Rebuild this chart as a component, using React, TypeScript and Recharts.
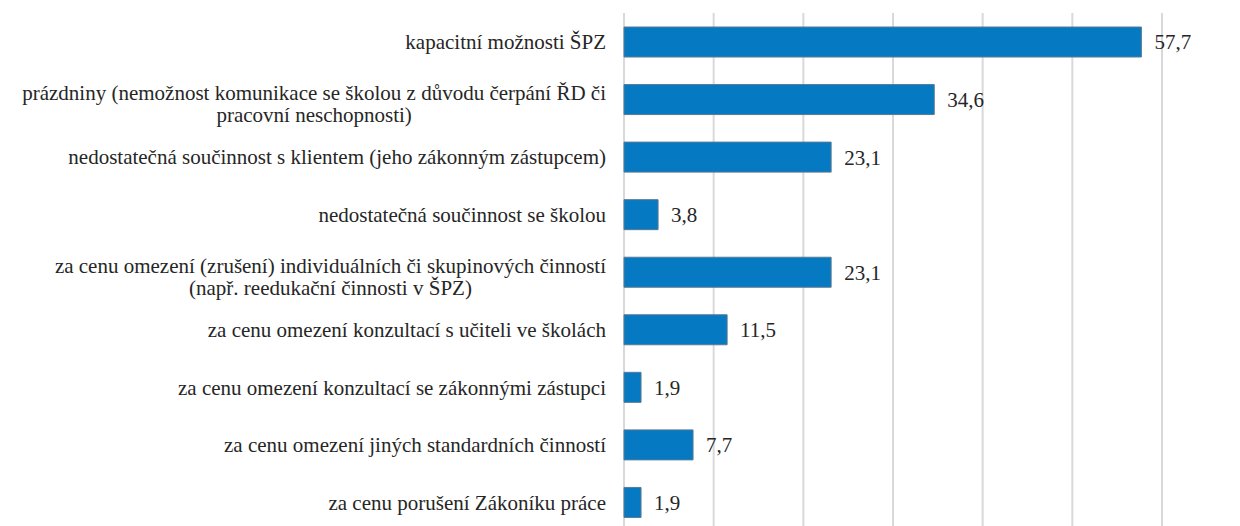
import React, { useEffect, useRef } from 'react';
import { BarChart, Bar, XAxis, YAxis, CartesianGrid, LabelList } from 'recharts';

const categories: string[] = [
  'kapacitní možnosti ŠPZ',
  'prázdniny (nemožnost komunikace se školou z důvodu čerpání ŘD či\npracovní neschopnosti)',
  'nedostatečná součinnost s klientem (jeho zákonným zástupcem)',
  'nedostatečná součinnost se školou',
  'za cenu omezení (zrušení) individuálních či skupinových činností\n(např. reedukační činnosti v ŠPZ)',
  'za cenu omezení konzultací s učiteli ve školách',
  'za cenu omezení konzultací se zákonnými zástupci',
  'za cenu omezení jiných standardních činností',
  'za cenu porušení Zákoníku práce',
];

const values: number[] = [57.7, 34.6, 23.1, 3.8, 23.1, 11.5, 1.9, 7.7, 1.9];

const xTicks: number[] = [0, 10, 20, 30, 40, 50, 60];

const data = categories.map((name, i) => ({ name, value: values[i] }));

const FONT = '"Liberation Serif"';
const FONT_SIZE = 21;
const TEXT_COLOR = '#262626';

let ctx: CanvasRenderingContext2D | null = null;
function measure(s: string): number {
  if (!ctx) {
    const c = document.createElement('canvas');
    ctx = c.getContext('2d');
  }
  if (!ctx) return s.length * FONT_SIZE * 0.45;
  ctx.font = `${FONT_SIZE}px "Liberation Serif"`;
  return ctx.measureText(s).width;
}

const textStyle: React.CSSProperties = { fontFamily: FONT, fontSize: FONT_SIZE, fill: TEXT_COLOR };

const CategoryTick = (props: any) => {
  const { x, y, payload } = props;
  const lines: string[] = String(payload.value).split('\n');
  const right = x - 6;
  if (lines.length === 1) {
    return (
      <text x={right} y={y} dy="0.355em" textAnchor="end" style={textStyle}>
        {lines[0]}
      </text>
    );
  }
  const maxW = Math.max(...lines.map(measure));
  const cx = right - maxW / 2;
  return (
    <text x={cx} y={y} textAnchor="middle" style={textStyle}>
      {lines.map((l, i) => (
        <tspan key={i} x={cx} y={y + 1 + i * 22}>
          {l}
        </tspan>
      ))}
    </text>
  );
};

const css = `
html body div.recharts-wrapper svg text,
html body div.recharts-wrapper svg tspan,
html body div.recharts-wrapper svg text tspan,
html body div.recharts-wrapper svg g text,
html body div.recharts-wrapper .recharts-text,
html body div.recharts-wrapper .recharts-label {
  font-family: "Liberation Serif" !important;
  font-size: 21px !important;
}
`;

export default function App() {
  const ref = useRef<HTMLDivElement>(null);
  useEffect(() => {
    const apply = () => {
      const root = ref.current;
      if (!root) return;
      root.querySelectorAll('text, tspan').forEach((el) => {
        const s = (el as SVGElement).style;
        s.setProperty('font-family', '"Liberation Serif"', 'important');
        s.setProperty('font-size', '21px', 'important');
      });
    };
    apply();
    const raf = requestAnimationFrame(apply);
    const t1 = setTimeout(apply, 30);
    const t2 = setTimeout(apply, 150);
    return () => {
      cancelAnimationFrame(raf);
      clearTimeout(t1);
      clearTimeout(t2);
    };
  });
  return (
    <div ref={ref} style={{ position: 'fixed', left: 0, top: 0, background: '#fff' }}>
      <style>{css}</style>
      <BarChart
        width={1240}
        height={540}
        data={data}
        layout="vertical"
        margin={{ top: 13, right: 78, bottom: 9, left: 0 }}
        barCategoryGap={0}
      >
        <CartesianGrid horizontal={false} vertical={true} stroke="#d9d9d9" strokeWidth={2} />
        <XAxis type="number" domain={[0, 60]} ticks={xTicks} hide />
        <YAxis
          type="category"
          dataKey="name"
          width={624}
          axisLine={false}
          tickLine={false}
          tickSize={6}
          tickMargin={6}
          tick={<CategoryTick />}
          interval={0}
        />
        <Bar dataKey="value" fill="#0579C1" stroke="#5a7a95" strokeWidth={1} barSize={30} isAnimationActive={false}>
          <LabelList
            dataKey="value"
            position="right"
            offset={13}
            formatter={(v: any) => Number(v).toFixed(1).replace('.', ',')}
            fill={TEXT_COLOR}
            style={{ fontFamily: FONT, fontSize: FONT_SIZE }}
          />
        </Bar>
      </BarChart>
    </div>
  );
}
